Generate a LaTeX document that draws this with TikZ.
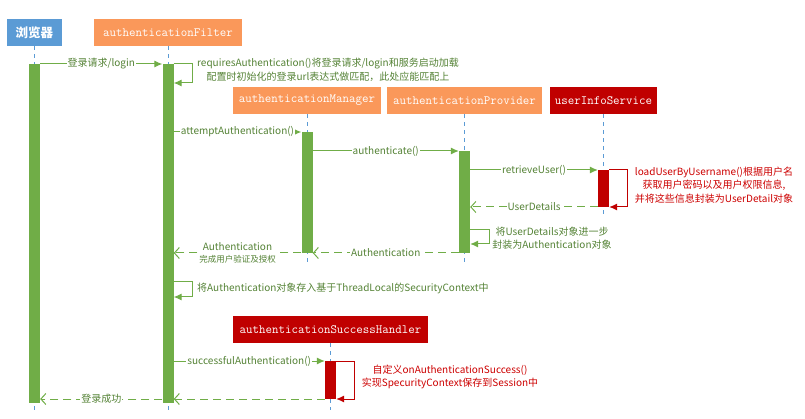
\documentclass[tikz,border=0pt]{standalone}
\usepackage{fontspec}
\newfontfamily\cjk{Noto Sans CJK SC}
\usetikzlibrary{arrows.meta}
\definecolor{barGreen}{RGB}{112,173,71}
\definecolor{txtGreen}{RGB}{84,130,53}
\definecolor{hdrOrange}{RGB}{250,152,90}
\definecolor{hdrBlue}{RGB}{91,155,213}
\definecolor{darkRed}{RGB}{192,0,0}
\definecolor{noteRed}{RGB}{204,0,0}

\begin{document}
\begin{tikzpicture}[x=1pt,y=-1pt,
  hdr/.style={minimum height=27pt,inner sep=0pt,text=white,font=\ttfamily\fontsize{12.6}{14}\selectfont},
  gbar/.style={fill=barGreen,minimum width=11pt,inner sep=0pt,anchor=north},
  rbar/.style={fill=darkRed,minimum width=11pt,inner sep=0pt,anchor=north},
  life/.style={draw=hdrBlue,line width=0.6pt,dash pattern=on 4pt off 4pt},
  msg/.style={draw=barGreen,line width=1pt,-{Latex[length=8pt,width=7pt]}},
  ret/.style={draw=barGreen,line width=1pt,dash pattern=on 8pt off 5pt,-{Straight Barb[length=5pt,width=11pt]}},
  rloop/.style={draw=darkRed,line width=1pt,-{Latex[length=8pt,width=7pt]}},
  lbl/.style={fill=white,inner sep=1pt,text=txtGreen,font=\cjk\fontsize{10}{11.5}\selectfont},
  note/.style={text=txtGreen,font=\cjk\fontsize{10}{13.5}\selectfont,align=center,inner sep=0pt},
]
\useasboundingbox (0,0) rectangle (805,419);
% rows of the messages
\coordinate (r1) at (0,64);
\coordinate (r3) at (0,132);
\coordinate (r4) at (0,151);
\coordinate (r5) at (0,170);
\coordinate (r6) at (0,207);
\coordinate (r8) at (0,253);
\coordinate (r10) at (0,361);
\coordinate (r11) at (0,399);
\coordinate (bottom) at (0,410);
\coordinate (midEnd) at (0,265);
\coordinate (svcEnd) at (0,217);
% participants
\node[hdr,fill=hdrBlue,minimum width=55pt,font=\cjk\bfseries\fontsize{12.5}{14}\selectfont] (browser) at (34.5,32.5) {浏览器};
\node[hdr,fill=hdrOrange,minimum width=148pt] (filter) at (168,32.5) {authenticationFilter};
\node[hdr,fill=hdrOrange,minimum width=148pt] (manager) at (307,100.5) {authenticationManager};
\node[hdr,fill=hdrOrange,minimum width=155pt] (provider) at (464.5,100.5) {authenticationProvider};
\node[hdr,fill=darkRed,minimum width=107pt] (service) at (603.5,100.5) {userInfoService};
\node[hdr,fill=darkRed,minimum width=195pt] (handler) at (330.5,329.5) {authenticationSuccessHandler};
% lifelines
\draw[life] (browser.south) -- (browser.south |- bottom);
\draw[life] (filter.south) -- (filter.south |- bottom);
\draw[life] (manager.south) -- (manager.south |- midEnd);
\draw[life] (provider.south) -- (provider.south |- midEnd);
\draw[life] (service.south) -- (service.south |- svcEnd);
\draw[life] (handler.south) -- (handler.south |- bottom);
% activation bars
\node[gbar,minimum height=339pt] (bbar) at (browser |- r1) {};
\node[gbar,minimum height=339pt] (fbar) at (filter |- r1) {};
\node[gbar,minimum height=121pt] (mbar) at (manager |- r3) {};
\node[gbar,minimum height=102pt] (pbar) at (provider |- r4) {};
\node[rbar,minimum height=37pt] (sbar) at (service |- r5) {};
\node[rbar,minimum height=38pt] (hbar) at (handler |- r10) {};
% login request
\draw[msg] (bbar.east |- r1) -- (fbar.west |- r1) node[lbl,midway]{登录请求/login};
% url matching
\coordinate (l1) at (192,83);
\draw[msg] (fbar.east |- r1) -| (l1) -- (fbar.east |- l1);
\node[note,anchor=west] (n1) at (197,70) {requiresAuthentication()将登录请求/login和服务启动加载\\配置时初始化的登录url表达式做匹配，此处应能匹配上};
% authentication chain
\draw[msg] (fbar.east |- r3) -- (mbar.west |- r3) node[lbl,midway]{attemptAuthentication()};
\draw[msg] (mbar.east |- r4) -- (pbar.west |- r4) node[lbl,midway]{authenticate()};
\draw[msg] (pbar.east |- r5) -- (sbar.west |- r5) node[lbl,midway]{retrieveUser()};
% load user
\coordinate (l2) at (627,207);
\draw[rloop] (sbar.east |- r5) -| (l2) -- (sbar.east |- l2);
\node[note,text=noteRed] (n2) at (714,185) {loadUserByUsername()根据用户名\\获取用户密码以及用户权限信息,\\并将这些信息封装为UserDetail对象};
\draw[ret] (sbar.west |- r6) -- (pbar.east |- r6) node[lbl,midway]{UserDetails};
% wrap into Authentication
\coordinate (l3a) at (0,230);
\coordinate (l3) at (489,244);
\draw[msg] (pbar.east |- l3a) -| (l3) -- (pbar.east |- l3);
\node[note] (n3) at (552,238) {将UserDetails对象进一步\\封装为Authentication对象};
\draw[ret] (pbar.west |- r8) -- (mbar.east |- r8) node[lbl,midway]{Authentication};
\draw[ret] (mbar.west |- r8) -- (fbar.east |- r8) node[lbl,midway,align=center]{Authentication\\{\fontsize{8.5}{10}\selectfont 完成用户验证及授权}};
% store in context
\coordinate (l4a) at (0,282);
\coordinate (l4) at (192,297);
\draw[msg] (fbar.east |- l4a) -| (l4) -- (fbar.east |- l4);
\node[note,anchor=west] (n4) at (197,288) {将Authentication对象存入基于ThreadLocal的SecurityContext中};
% success handler
\draw[msg] (fbar.east |- r10) -- (hbar.west |- r10) node[lbl,midway]{successfulAuthentication()};
\coordinate (l5) at (354,399);
\draw[rloop] (hbar.east |- r10) -| (l5) -- (hbar.east |- l5);
\node[note,text=noteRed] (n5) at (450,377) {自定义onAuthenticationSuccess()\\实现SpecurityContext保存到Session中};
% responses
\draw[ret] (hbar.west |- r11) -- (fbar.east |- r11);
\draw[ret] (fbar.west |- r11) -- (bbar.east |- r11) node[lbl,midway]{登录成功};
\end{tikzpicture}
\end{document}
